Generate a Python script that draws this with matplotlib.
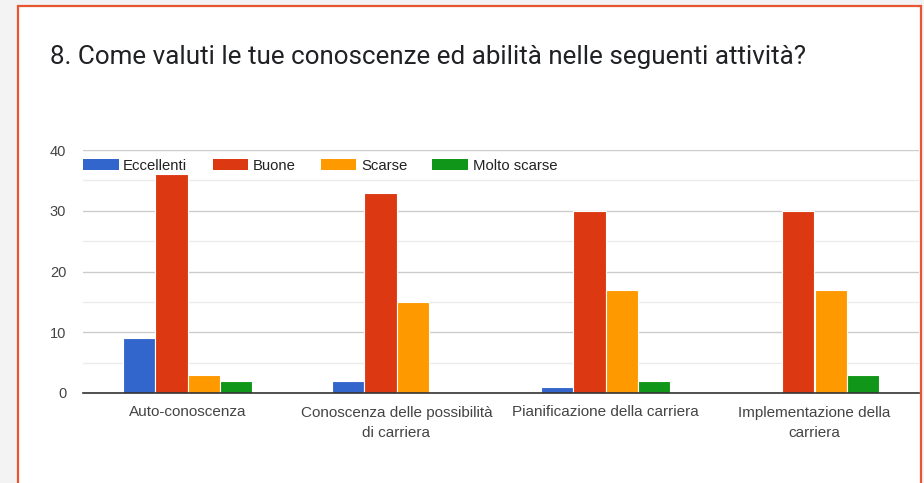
import matplotlib
matplotlib.use("Agg")
import matplotlib.pyplot as plt
import numpy as np
from matplotlib.patches import Rectangle

plt.rcParams['font.family'] = ['Liberation Sans', 'DejaVu Sans']

categories = ["Auto-conoscenza",
              "Conoscenza delle possibilità\ndi carriera",
              "Pianificazione della carriera",
              "Implementazione della\ncarriera"]
series_names = ["Eccellenti", "Buone", "Scarse", "Molto scarse"]
eccellenti = [9, 2, 1, 0]
buone = [36, 33, 30, 30]
scarse = [3, 15, 17, 17]
molto_scarse = [2, 0, 2, 3]
y_ticks = [0, 10, 20, 30, 40]

colors = ["#3366cc", "#dc3912", "#ff9900", "#109618"]
series = [eccellenti, buone, scarse, molto_scarse]

W, H = 924, 483
fig = plt.figure(figsize=(W / 100, H / 100), dpi=100)
fig.patch.set_facecolor("#f3f3f3")

# card with orange border
card = Rectangle((18 / W, -0.05), (921 - 18) / W, 1 - 6 / H + 0.05,
                 transform=fig.transFigure, facecolor="white",
                 edgecolor="#e8552e", linewidth=1.6, zorder=-5)
fig.patches.append(card)

fig.text(50 / W, 1 - 57 / H,
         "8. Come valuti le tue conoscenze ed abilità nelle seguenti attività?",
         fontsize=18.7, color="#202124", va="center", ha="left",
         family=['Roboto', 'DejaVu Sans'])

ax = fig.add_axes([83 / W, 1 - 393 / H, (919 - 83) / W, (393 - 150) / H])
ax.set_facecolor("none")
ax.set_zorder(2)

x = np.arange(len(categories))
bw = 0.155
offsets = (np.arange(4) - 1.5) * bw
for vals, off, c, name in zip(series, offsets, colors, series_names):
    ax.bar(x + off, vals, width=bw, color=c, edgecolor="white",
           linewidth=0.8, label=name, zorder=3)

ax.set_xlim(-0.5, len(categories) - 0.5)
ax.set_ylim(0, 40)
ax.set_yticks(y_ticks)
ax.set_yticks([5, 15, 25, 35], minor=True)
ax.grid(axis="y", which="major", color="#cccccc", linewidth=1, zorder=0)
ax.grid(axis="y", which="minor", color="#ebebeb", linewidth=1, zorder=0)
ax.set_xticks(x)
ax.set_xticklabels(categories, fontsize=11, color="#444444", linespacing=1.55)
ax.tick_params(axis="x", length=0, pad=9)
ax.tick_params(axis="y", which="both", length=0, labelsize=10.5,
               labelcolor="#444444", pad=12)
for s in ["top", "right", "left"]:
    ax.spines[s].set_visible(False)
ax.spines["bottom"].set_color("#333333")
ax.spines["bottom"].set_linewidth(1.2)
ax.spines["bottom"].set_zorder(4)

leg = ax.legend(loc="upper left", bbox_to_anchor=(0, 0.965), ncol=4,
                frameon=False, fontsize=10.7, handlelength=2.4,
                handleheight=0.8, handletextpad=0.3, columnspacing=1.7,
                borderaxespad=0, borderpad=0)
for t in leg.get_texts():
    t.set_color("#222222")
for h in leg.legend_handles:
    h.set_edgecolor("none")

fig.savefig("out.png", dpi=100)
